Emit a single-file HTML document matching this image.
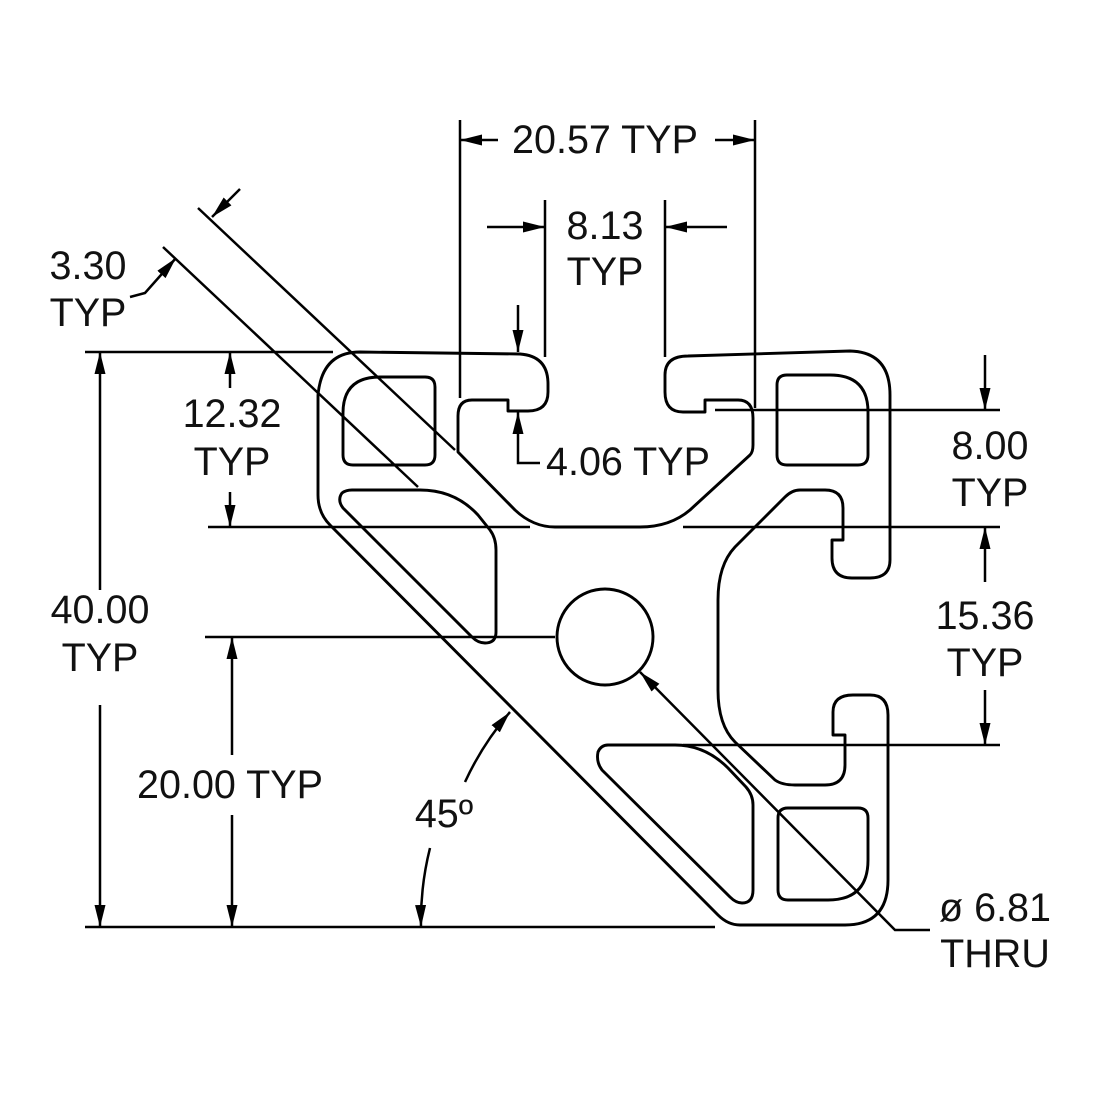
<!DOCTYPE html>
<html><head><style>html,body{margin:0;padding:0;background:#fff}svg{display:block}text{font-family:"Liberation Sans",Arial,sans-serif;font-size:39.5px;fill:#111}</style></head>
<body>
<svg width="1100" height="1100" viewBox="0 0 1100 1100" xmlns="http://www.w3.org/2000/svg">
<defs>
<marker id="b" viewBox="0 0 20 10" refX="20" refY="5" markerWidth="22" markerHeight="11" orient="auto-start-reverse" markerUnits="userSpaceOnUse"><path d="M0,0 L20,5 L0,10z" fill="#000"/></marker>
</defs>
<g fill="none" stroke="#000" stroke-width="2.9" stroke-linejoin="round">
<path d="M360,352 L520,354 Q548,356 548,384 L548,392 Q548,411 528,411 L508,411 L508,400 L472,400 Q458,400 458,416 L458,452 L515,510 Q533,527 555,527 L640,527 Q670,527 690,510 L750,455 Q753,452 753,445 L753,418 Q753,400 738,400 L705,400 L705,412 L683,412 Q665,412 665,392 L665,375 Q665,356 688,356 L850,351 Q890,352 890,395 L890,560 Q890,578 870,578 L852,578 Q832,578 832,558 L832,540 L843,540 L843,508 Q843,490 825,490 L800,490 Q792,490 785,497 L735,547 Q718,565 718,600 L718,690 Q718,725 735,742 L775,780 Q782,785 795,785 L825,785 Q845,785 845,765 L845,735 L833,735 L833,712 Q833,695 853,695 L870,695 Q888,695 888,715 L888,880 Q888,925 845,925 L740,925 Q728,925 718,915 L330,525 Q318,513 318,495 L318,395 Q322,352 360,352 Z"/>
<path d="M343,413 Q343,377 380,377 L425,377 Q435,377 435,387 L435,455 Q435,465 425,465 L353,465 Q343,465 343,455 Z"/>
<path d="M777,385 Q777,375 787,375 L830,375 Q868,375 868,412 L868,455 Q868,465 858,465 L787,465 Q777,465 777,455 Z"/>
<path d="M778,818 Q778,808 788,808 L858,808 Q868,808 868,818 L868,860 Q868,900 828,900 L788,900 Q778,900 778,890 Z"/>
<path d="M352,490 L420,490 Q455,490 478,515 L490,530 Q496,538 496,550 L496,632 Q496,643 485,643 Q478,643 472,637 L343,508 Q337,500 342,493 Q346,490 352,490 Z"/>
<path d="M608,745 L675,745 Q705,745 728,768 L746,787 Q753,795 753,805 L753,890 Q753,903 742,903 Q736,903 730,897 L602,770 Q596,762 598,752 Q601,745 608,745 Z"/>
<circle cx="605" cy="637" r="48"/>
</g>
<g fill="none" stroke="#000" stroke-width="2.5">
<line x1="85" y1="352" x2="333" y2="352"/>
<line x1="208" y1="527" x2="530" y2="527"/>
<line x1="205" y1="637" x2="555" y2="637"/>
<line x1="85" y1="927" x2="715" y2="927"/>
<line x1="715" y1="410" x2="1000" y2="410"/>
<line x1="683" y1="527" x2="1000" y2="527"/>
<line x1="683" y1="745" x2="1000" y2="745"/>
<line x1="460" y1="120" x2="460" y2="398"/>
<line x1="755" y1="120" x2="755" y2="408"/>
<line x1="545" y1="200" x2="545" y2="357"/>
<line x1="665" y1="200" x2="665" y2="357"/>
<line x1="100" y1="590" x2="100" y2="352" marker-end="url(#b)"/>
<line x1="100" y1="705" x2="100" y2="927" marker-end="url(#b)"/>
<line x1="230" y1="388" x2="230" y2="352" marker-end="url(#b)"/>
<line x1="230" y1="492" x2="230" y2="527" marker-end="url(#b)"/>
<line x1="232" y1="755" x2="232" y2="637" marker-end="url(#b)"/>
<line x1="232" y1="815" x2="232" y2="927" marker-end="url(#b)"/>
<line x1="498" y1="140" x2="460" y2="140" marker-end="url(#b)"/>
<line x1="715" y1="140" x2="755" y2="140" marker-end="url(#b)"/>
<line x1="487" y1="227" x2="545" y2="227" marker-end="url(#b)"/>
<line x1="727" y1="227" x2="665" y2="227" marker-end="url(#b)"/>
<line x1="518" y1="305" x2="518" y2="352" marker-end="url(#b)"/>
<polyline points="540,463 518,463 518,412" marker-end="url(#b)"/>
<line x1="985" y1="355" x2="985" y2="410" marker-end="url(#b)"/>
<line x1="985" y1="582" x2="985" y2="527" marker-end="url(#b)"/>
<line x1="985" y1="690" x2="985" y2="745" marker-end="url(#b)"/>
<line x1="198" y1="208" x2="455" y2="450"/>
<line x1="163" y1="247" x2="418" y2="487"/>
<line x1="240" y1="189" x2="212" y2="217" marker-end="url(#b)"/>
<polyline points="130,297 145,293 176,258" marker-end="url(#b)"/>
<path d="M465,782 A300,300 0 0 1 510,712" marker-end="url(#b)"/>
<path d="M430,848 A300,300 0 0 0 421,927" marker-end="url(#b)"/>
<polyline points="930,930 895,930 640,672" marker-end="url(#b)"/>
</g>
<g text-anchor="middle">
<text x="605" y="153">20.57 TYP</text>
<text x="605" y="239">8.13</text>
<text x="605" y="285">TYP</text>
<text x="88" y="279">3.30</text>
<text x="88" y="326">TYP</text>
<text x="232" y="427">12.32</text>
<text x="232" y="475">TYP</text>
<text x="100" y="623">40.00</text>
<text x="100" y="671">TYP</text>
<text x="230" y="798">20.00 TYP</text>
<text x="444" y="827">45º</text>
<text x="628" y="475">4.06 TYP</text>
<text x="990" y="459">8.00</text>
<text x="990" y="506">TYP</text>
<text x="985" y="629">15.36</text>
<text x="985" y="676">TYP</text>
<text x="995" y="921">ø 6.81</text>
<text x="995" y="967">THRU</text>
</g>
</svg>
</body></html>
